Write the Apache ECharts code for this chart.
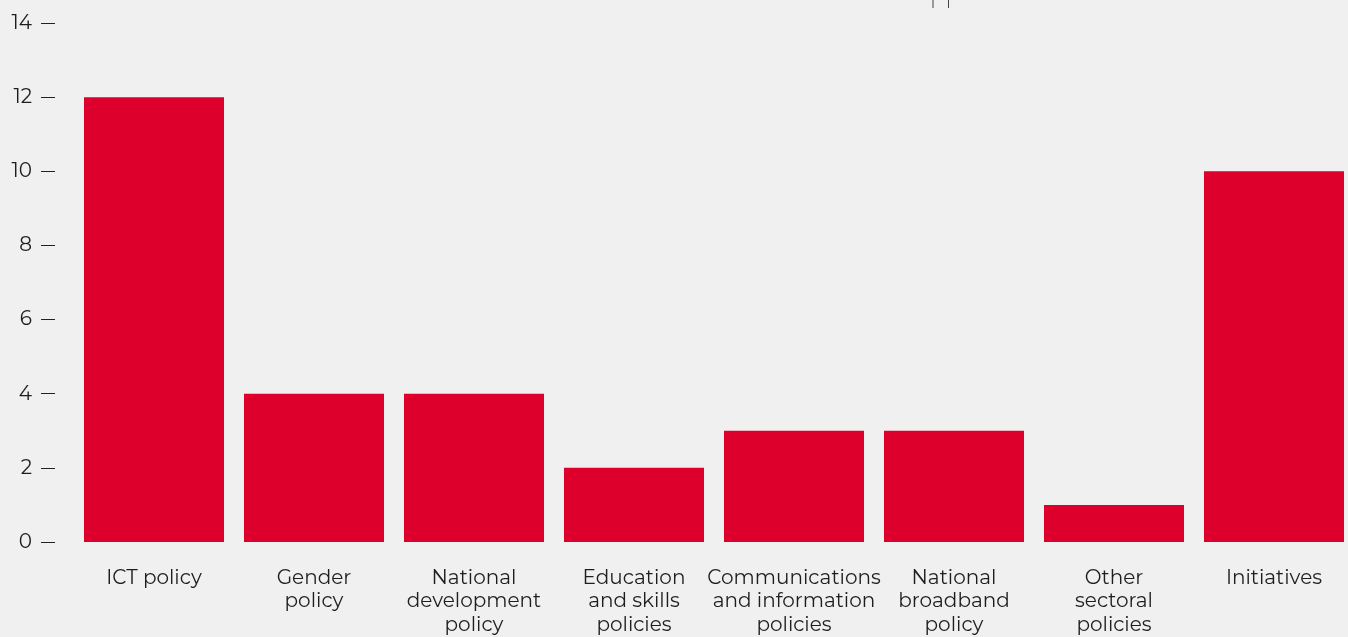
<!DOCTYPE html>
<html><head><meta charset="utf-8">
<script src="https://cdn.jsdelivr.net/npm/echarts@6/dist/echarts.min.js"></script>
<style>html,body{margin:0;padding:0;background:#f0f0f0;overflow:hidden;width:1348px;height:637px}#c{width:1360px;height:637px}</style>
</head><body><div id="c"></div>
<script>
const categories = ["ICT policy","Gender\npolicy","National\ndevelopment\npolicy","Education\nand skills\npolicies","Communications\nand information\npolicies","National\nbroadband\npolicy","Other\nsectoral\npolicies","Initiatives"];
const values = [12, 4, 4, 2, 3, 3, 1, 10];
const yTicks = [0, 2, 4, 6, 8, 10, 12, 14];

const chart = echarts.init(document.getElementById('c'));
const font = 'Montserrat, "Noto Sans", Inter, sans-serif';
chart.setOption({
  backgroundColor: '#f0f0f0',
  animation: false,
  grid: {left: 74, right: 6, top: 23, bottom: 95, containLabel: false},
  xAxis: {
    type: 'category', data: categories,
    axisLine: {show: false}, axisTick: {show: false},
    axisLabel: {interval: 0, color: '#1e1e1e', fontFamily: font, fontSize: 20, lineHeight: 23.5, margin: 24}
  },
  yAxis: {
    type: 'value', min: yTicks[0], max: yTicks[yTicks.length-1], interval: 2,
    offset: 19,
    axisLine: {show: false},
    axisTick: {show: true, length: 14, lineStyle: {color: '#222', width: 1}},
    splitLine: {show: false},
    axisLabel: {color: '#1e1e1e', fontFamily: font, fontSize: 20, margin: 23}
  },
  series: [{
    type: 'bar', data: values, barCategoryGap: '12.5%',
    itemStyle: {color: '#dd002c'}
  }],
  graphic: [
    {type: 'line', shape: {x1: 933, y1: 0, x2: 933, y2: 8}, style: {stroke: '#444', lineWidth: 1}},
    {type: 'line', shape: {x1: 948.5, y1: 0, x2: 948.5, y2: 8}, style: {stroke: '#444', lineWidth: 1}}
  ]
});
</script></body></html>
